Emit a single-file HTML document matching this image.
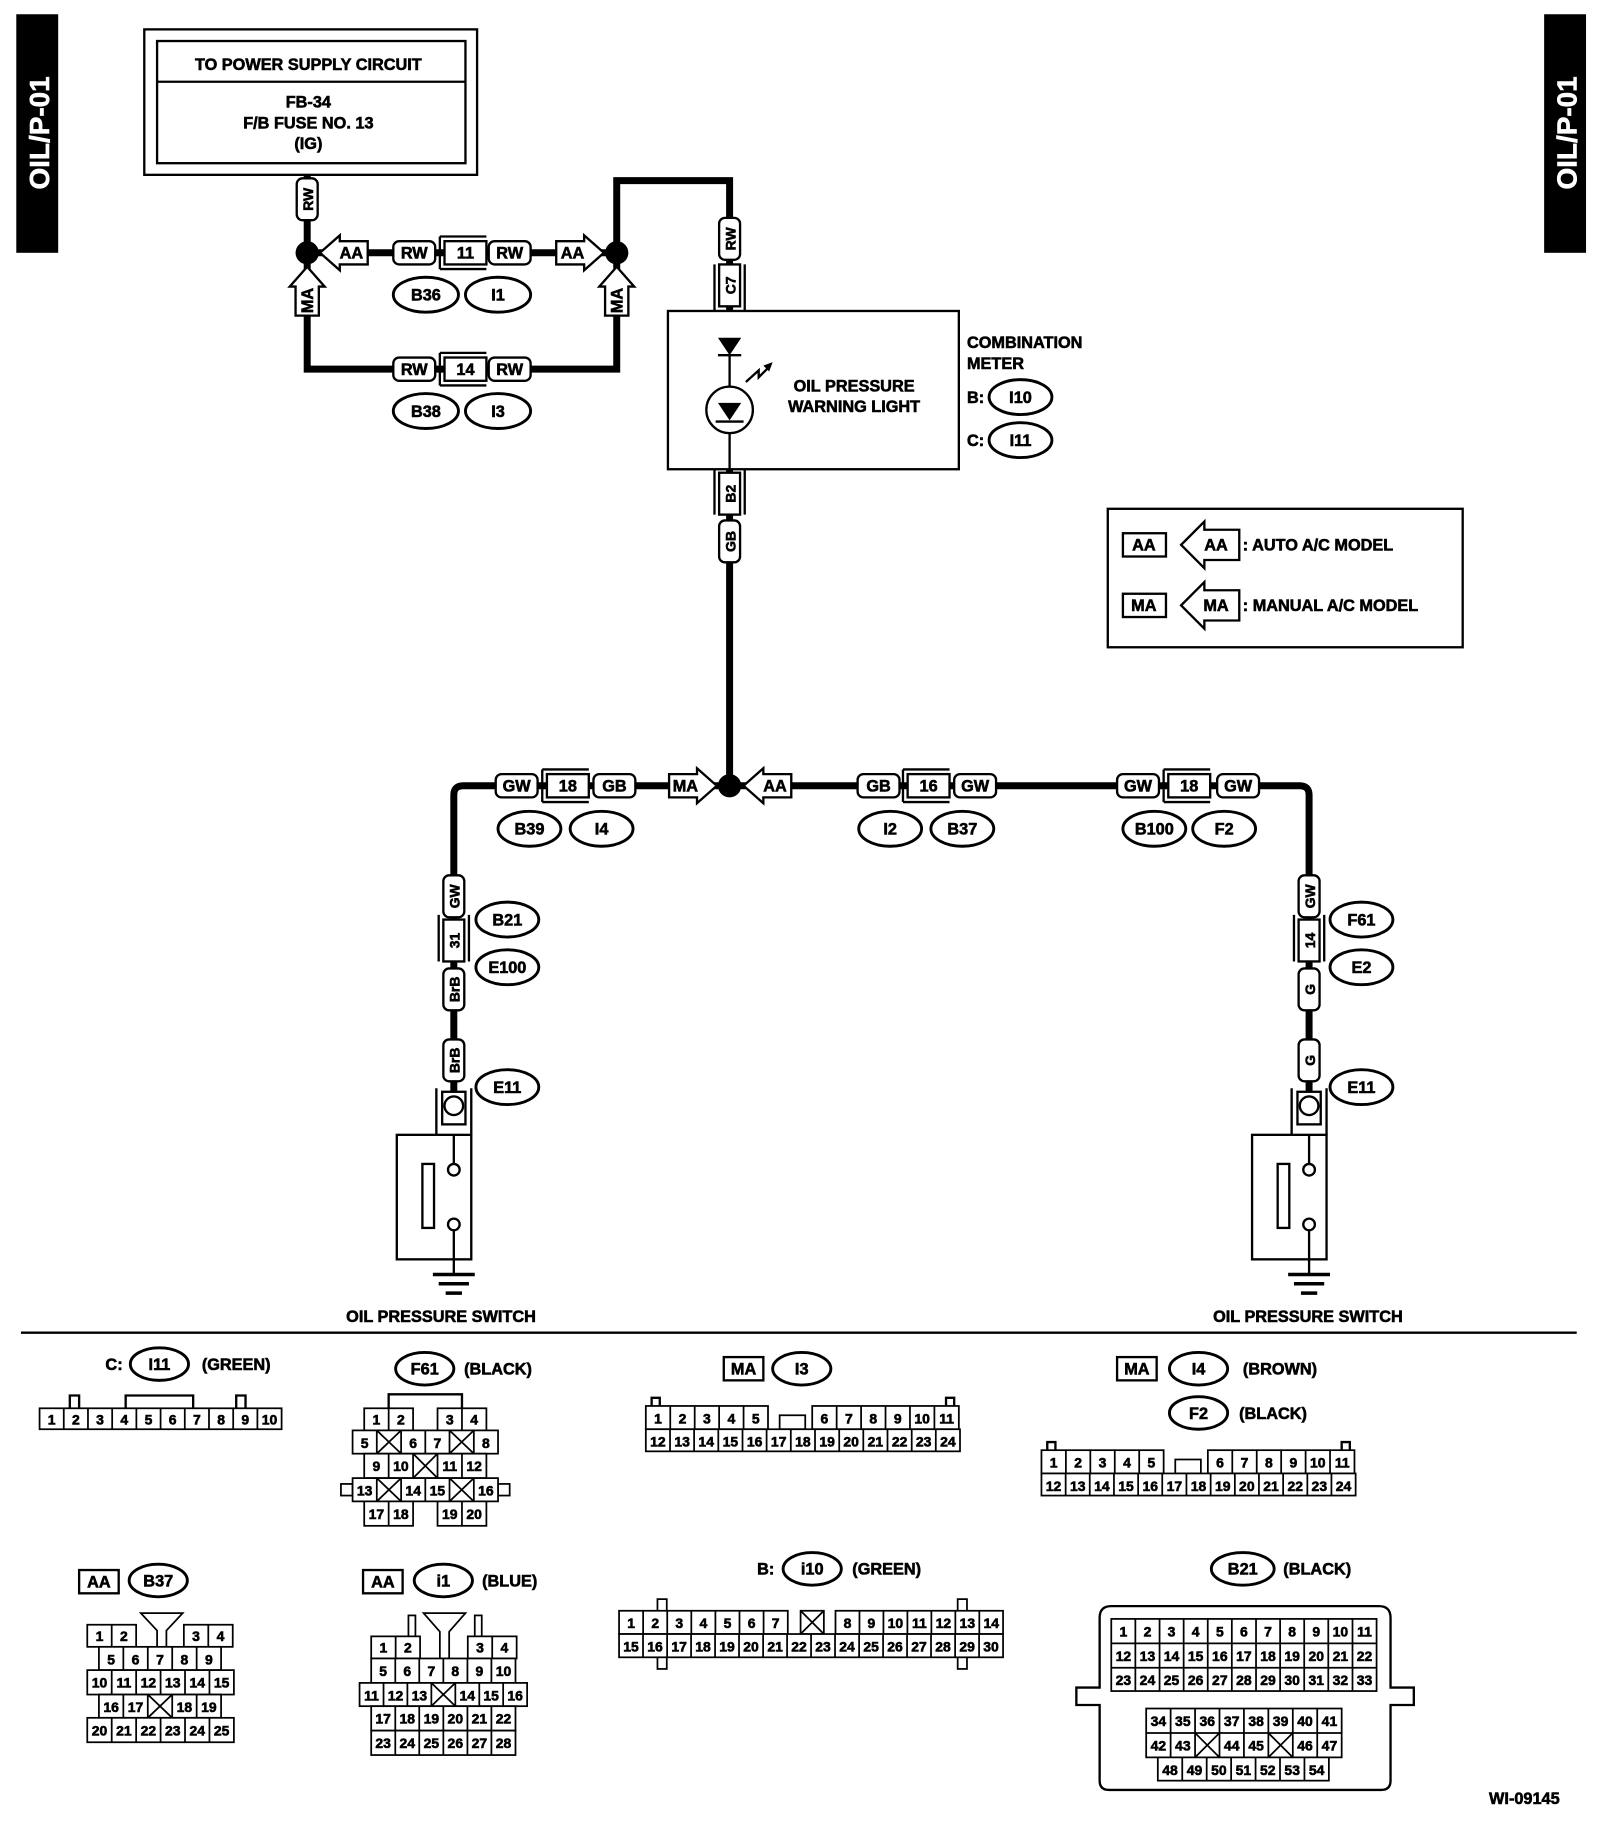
<!DOCTYPE html>
<html><head><meta charset="utf-8"><style>
html,body{margin:0;padding:0;background:#fff;}
svg{display:block;}
text{font-family:"Liberation Sans",sans-serif;font-weight:bold;fill:#000;stroke:#000;stroke-width:0.5;}
.l{font-size:14px;text-anchor:middle;}
.n{font-size:12px;text-anchor:middle;}
.a{font-size:14px;text-anchor:middle;}
.b{fill:#fff;stroke:#000;stroke-width:2;}
.c{fill:#fff;stroke:#000;stroke-width:1.5;}
.w{fill:none;stroke:#000;stroke-width:6;}
.t{fill:none;stroke:#000;stroke-width:2;}
.o{fill:#fff;stroke:#000;stroke-width:2.5;}
</style></head><body>
<svg width="1600" height="1824" viewBox="0 0 1375 1567" xmlns="http://www.w3.org/2000/svg">
<rect x="14" y="12" width="36" height="205" fill="#000"/>
<text transform="translate(42,114) rotate(-90)" style="font-size:24px;fill:#fff;stroke:#fff;text-anchor:middle">OIL/P-01</text>
<rect x="1327" y="12" width="36" height="205" fill="#000"/>
<text transform="translate(1355,114) rotate(-90)" style="font-size:24px;fill:#fff;stroke:#fff;text-anchor:middle">OIL/P-01</text>

<rect x="124" y="25" width="286" height="125" class="b"/>
<rect x="135" y="35" width="265" height="105" class="b"/>
<line x1="135" y1="70" x2="400" y2="70" class="t"/>
<text x="265" y="60" class="l">TO POWER SUPPLY CIRCUIT</text>
<text x="265" y="92" class="l">FB-34</text>
<text x="265" y="110" class="l">F/B FUSE NO. 13</text>
<text x="265" y="128" class="l">(IG)</text>

<path class="w" d="M264,150 V317 H530 V155 H627 V267"/>
<path class="w" d="M264,217 H530"/>
<path class="w" d="M627,403 V675"/>
<path class="w" d="M390,960 V683 Q390,675 398,675 H1117 Q1125,675 1125,683 V960"/>
<circle cx="264" cy="217" r="10"/>
<circle cx="530" cy="217" r="10"/>
<circle cx="627" cy="675" r="10"/>

<g transform="translate(264,171) rotate(-90)"><rect x="-18" y="-9" width="36" height="18" rx="5" class="b"/><text y="5" class="n">RW</text></g>
<g transform="translate(627,205) rotate(-90)"><rect x="-18" y="-9" width="36" height="18" rx="5" class="b"/><text y="5" class="n">RW</text></g>
<g transform="translate(627,245) rotate(-90)"><rect x="-18" y="-9" width="36" height="18" class="b"/><path class="t" d="M-22,-13 H18 M-22,13 H18"/><text y="5" class="n">C7</text></g>
<g transform="translate(627,424) rotate(-90)"><rect x="-18" y="-9" width="36" height="18" class="b"/><path class="t" d="M-18,-13 H22 M-18,13 H22"/><text y="5" class="n">B2</text></g>
<g transform="translate(627,465) rotate(-90)"><rect x="-18" y="-9" width="36" height="18" rx="5" class="b"/><text y="5" class="n">GB</text></g>

<g transform="translate(356,217)"><rect x="-18" y="-10" width="36" height="20" rx="5" class="b"/><text y="5" class="l">RW</text></g>
<g transform="translate(400,217)"><rect x="-18" y="-10" width="36" height="20" class="b"/><path class="t" d="M-22,-14 H18 M-22,14 H18 M-22,-14 V14"/><text y="5" class="l">11</text></g>
<g transform="translate(438,217)"><rect x="-18" y="-10" width="36" height="20" rx="5" class="b"/><text y="5" class="l">RW</text></g>
<g transform="translate(356,317)"><rect x="-18" y="-10" width="36" height="20" rx="5" class="b"/><text y="5" class="l">RW</text></g>
<g transform="translate(400,317)"><rect x="-18" y="-10" width="36" height="20" class="b"/><path class="t" d="M-22,-14 H18 M-22,14 H18 M-22,-14 V14"/><text y="5" class="l">14</text></g>
<g transform="translate(438,317)"><rect x="-18" y="-10" width="36" height="20" rx="5" class="b"/><text y="5" class="l">RW</text></g>

<polygon class="b" points="275,217 292,202 292,207 316,207 316,227 292,227 292,232"/><text x="302" y="222" class="a">AA</text>
<polygon class="b" points="519,217 502,202 502,207 478,207 478,227 502,227 502,232"/><text x="492" y="222" class="a">AA</text>
<polygon class="b" points="264,229 249,246 254,246 254,271 274,271 274,246 279,246"/><text transform="translate(269,258) rotate(-90)" class="a">MA</text>
<polygon class="b" points="530,229 515,246 520,246 520,271 540,271 540,246 545,246"/><text transform="translate(535,258) rotate(-90)" class="a">MA</text>
<polygon class="b" points="616,675 599,660 599,665 575,665 575,685 599,685 599,690"/><text x="589" y="680" class="a">MA</text>
<polygon class="b" points="639,675 656,660 656,665 680,665 680,685 656,685 656,690"/><text x="666" y="680" class="a">AA</text>

<g class="o">
<ellipse cx="366" cy="253" rx="28" ry="15"/><ellipse cx="428" cy="253" rx="28" ry="15"/>
<ellipse cx="366" cy="353" rx="28" ry="15"/><ellipse cx="428" cy="353" rx="28" ry="15"/>
<ellipse cx="877" cy="341" rx="27" ry="15"/><ellipse cx="877" cy="378" rx="27" ry="15"/>
<ellipse cx="455" cy="712" rx="27" ry="15"/><ellipse cx="517" cy="712" rx="27" ry="15"/>
<ellipse cx="765" cy="712" rx="27" ry="15"/><ellipse cx="827" cy="712" rx="27" ry="15"/>
<ellipse cx="992" cy="712" rx="27" ry="15"/><ellipse cx="1052" cy="712" rx="27" ry="15"/>
<ellipse cx="436" cy="790" rx="27" ry="15"/><ellipse cx="436" cy="831" rx="27" ry="15"/><ellipse cx="436" cy="934" rx="27" ry="15"/>
<ellipse cx="1170" cy="790" rx="27" ry="15"/><ellipse cx="1170" cy="831" rx="27" ry="15"/><ellipse cx="1170" cy="934" rx="27" ry="15"/>
</g>
<text x="366" y="258" class="l">B36</text><text x="428" y="258" class="l">I1</text>
<text x="366" y="358" class="l">B38</text><text x="428" y="358" class="l">I3</text>
<text x="877" y="346" class="l">I10</text><text x="877" y="383" class="l">I11</text>
<text x="455" y="717" class="l">B39</text><text x="517" y="717" class="l">I4</text>
<text x="765" y="717" class="l">I2</text><text x="827" y="717" class="l">B37</text>
<text x="992" y="717" class="l">B100</text><text x="1052" y="717" class="l">F2</text>
<text x="436" y="795" class="l">B21</text><text x="436" y="836" class="l">E100</text><text x="436" y="939" class="l">E11</text>
<text x="1170" y="795" class="l">F61</text><text x="1170" y="836" class="l">E2</text><text x="1170" y="939" class="l">E11</text>

<rect x="574" y="267" width="250" height="136" class="b"/>
<polygon points="617,290 637,290 627,305"/>
<line x1="617" y1="305" x2="637" y2="305" class="t"/>
<line x1="627" y1="305" x2="627" y2="332" class="t"/>
<circle cx="627" cy="352" r="20" class="b"/>
<polygon points="617,346 637,346 627,361"/>
<line x1="615" y1="362" x2="639" y2="362" class="t"/>
<line x1="627" y1="372" x2="627" y2="403" class="t"/>
<path class="t" d="M641,328 L652,318 L652,324 L662,314"/><polygon points="664,311 656,314 661,319"/>
<text x="734" y="336" class="l">OIL PRESSURE</text>
<text x="734" y="354" class="l">WARNING LIGHT</text>
<text x="831" y="299" style="font-size:14px">COMBINATION</text>
<text x="831" y="317" style="font-size:14px">METER</text>
<text x="831" y="346" style="font-size:14px">B:</text>
<text x="831" y="383" style="font-size:14px">C:</text>

<rect x="952" y="437" width="305" height="119" class="b"/>
<rect x="965" y="458" width="37" height="20" class="b"/><text x="983" y="473" class="l">AA</text>
<polygon class="b" points="1015,468 1035,448 1035,455 1065,455 1065,481 1035,481 1035,488"/><text x="1045" y="473" class="l">AA</text>
<text x="1068" y="473" style="font-size:14px">: AUTO A/C MODEL</text>
<rect x="965" y="510" width="37" height="20" class="b"/><text x="983" y="525" class="l">MA</text>
<polygon class="b" points="1015,520 1035,500 1035,507 1065,507 1065,533 1035,533 1035,540"/><text x="1045" y="525" class="l">MA</text>
<text x="1068" y="525" style="font-size:14px">: MANUAL A/C MODEL</text>

<g transform="translate(444,675)"><rect x="-18" y="-10" width="36" height="20" rx="5" class="b"/><text y="5" class="l">GW</text></g>
<g transform="translate(488,675)"><rect x="-18" y="-10" width="36" height="20" class="b"/><path class="t" d="M-22,-14 H18 M-22,14 H18 M-22,-14 V14"/><text y="5" class="l">18</text></g>
<g transform="translate(528,675)"><rect x="-18" y="-10" width="36" height="20" rx="5" class="b"/><text y="5" class="l">GB</text></g>
<g transform="translate(755,675)"><rect x="-18" y="-10" width="36" height="20" rx="5" class="b"/><text y="5" class="l">GB</text></g>
<g transform="translate(798,675)"><rect x="-18" y="-10" width="36" height="20" class="b"/><path class="t" d="M-22,-14 H18 M-22,14 H18 M-22,-14 V14"/><text y="5" class="l">16</text></g>
<g transform="translate(838,675)"><rect x="-18" y="-10" width="36" height="20" rx="5" class="b"/><text y="5" class="l">GW</text></g>
<g transform="translate(978,675)"><rect x="-18" y="-10" width="36" height="20" rx="5" class="b"/><text y="5" class="l">GW</text></g>
<g transform="translate(1022,675)"><rect x="-18" y="-10" width="36" height="20" class="b"/><path class="t" d="M-22,-14 H18 M-22,14 H18 M-22,-14 V14"/><text y="5" class="l">18</text></g>
<g transform="translate(1064,675)"><rect x="-18" y="-10" width="36" height="20" rx="5" class="b"/><text y="5" class="l">GW</text></g>

<g transform="translate(390,770) rotate(-90)"><rect x="-18" y="-9" width="36" height="18" rx="5" class="b"/><text y="5" class="n">GW</text></g>
<g transform="translate(390,808) rotate(-90)"><rect x="-18" y="-9" width="36" height="18" class="b"/><path class="t" d="M-18,-13 H22 M-18,13 H22"/><text y="5" class="n">31</text></g>
<g transform="translate(390,850) rotate(-90)"><rect x="-18" y="-9" width="36" height="18" rx="5" class="b"/><text y="5" class="n">BrB</text></g>
<g transform="translate(390,911) rotate(-90)"><rect x="-18" y="-9" width="36" height="18" rx="5" class="b"/><text y="5" class="n">BrB</text></g>
<g transform="translate(1125,770) rotate(-90)"><rect x="-18" y="-9" width="36" height="18" rx="5" class="b"/><text y="5" class="n">GW</text></g>
<g transform="translate(1125,808) rotate(-90)"><rect x="-18" y="-9" width="36" height="18" class="b"/><path class="t" d="M-18,-13 H22 M-18,13 H22"/><text y="5" class="n">14</text></g>
<g transform="translate(1125,850) rotate(-90)"><rect x="-18" y="-9" width="36" height="18" rx="5" class="b"/><text y="5" class="n">G</text></g>
<g transform="translate(1125,911) rotate(-90)"><rect x="-18" y="-9" width="36" height="18" rx="5" class="b"/><text y="5" class="n">G</text></g>

<g id="sw">
<path class="t" d="M375,975 V935 M405,975 V935"/>
<rect x="380" y="938" width="20" height="28" class="b"/>
<circle cx="390" cy="950" r="8" class="b"/>
<rect x="341" y="975" width="64" height="107" class="b"/>
<rect x="363" y="1000" width="10" height="55" class="b"/>
<line x1="390" y1="975" x2="390" y2="1000" class="t"/>
<circle cx="390" cy="1005" r="5" class="b"/>
<circle cx="390" cy="1052" r="5" class="b"/>
<line x1="390" y1="1057" x2="390" y2="1095" class="t"/>
<path d="M372,1095 H408 M377,1103 H403 M383,1111 H397" stroke="#000" stroke-width="3"/>
</g>
<use href="#sw" x="735"/>
<text x="379" y="1136" class="l">OIL PRESSURE SWITCH</text>
<text x="1124" y="1136" class="l">OIL PRESSURE SWITCH</text>

<line x1="18" y1="1145" x2="1355" y2="1145" class="t"/>

<text x="98" y="1177" class="l">C:</text>
<ellipse cx="137" cy="1172" rx="25" ry="14" class="o"/><text x="137" y="1177" class="l">I11</text>
<text x="203" y="1177" class="l">(GREEN)</text>
<path class="t" d="M60,1210 V1199 H68 V1210 M108,1210 V1199 H166 V1210 M203,1210 V1199 H211 V1210"/>
<rect x="34" y="1210" width="208" height="18" class="c"/>
<path class="c" d="M54.8,1210V1228M75.6,1210V1228M96.4,1210V1228M117.2,1210V1228M138,1210V1228M158.8,1210V1228M179.6,1210V1228M200.4,1210V1228M221.2,1210V1228"/>
<g class="n"><text x="44.4" y="1224">1</text><text x="65.2" y="1224">2</text><text x="86" y="1224">3</text><text x="106.8" y="1224">4</text><text x="127.6" y="1224">5</text><text x="148.4" y="1224">6</text><text x="169.2" y="1224">7</text><text x="190" y="1224">8</text><text x="210.8" y="1224">9</text><text x="231.6" y="1224">10</text></g>

<ellipse cx="365" cy="1176" rx="25" ry="14" class="o"/><text x="365" y="1181" class="l">F61</text>
<text x="428" y="1181" class="l">(BLACK)</text>
<path class="t" d="M334,1210 V1198 H397 V1210"/>
<rect x="313" y="1210" width="42" height="19" class="c"/><rect x="376" y="1210" width="42" height="19" class="c"/>
<rect x="303" y="1229" width="125" height="20" class="c"/>
<rect x="313" y="1249" width="105" height="21" class="c"/>
<rect x="293" y="1275" width="10" height="10" class="c"/><rect x="428" y="1275" width="10" height="10" class="c"/>
<rect x="303" y="1270" width="125" height="20" class="c"/>
<rect x="313" y="1290" width="42" height="21" class="c"/><rect x="376" y="1290" width="42" height="21" class="c"/>
<path class="c" d="M334,1210V1229M397,1210V1229M334,1290V1311M397,1290V1311
M323.8,1229V1249M344.7,1229V1249M365.5,1229V1249M386.3,1229V1249M407.2,1229V1249
M334,1249V1270M355,1249V1270M376,1249V1270M397,1249V1270
M323.8,1270V1290M344.7,1270V1290M365.5,1270V1290M386.3,1270V1290M407.2,1270V1290
M323.8,1229L344.7,1249M344.7,1229L323.8,1249M386.3,1229L407.2,1249M407.2,1229L386.3,1249
M355,1249L376,1270M376,1249L355,1270
M323.8,1270L344.7,1290M344.7,1270L323.8,1290M386.3,1270L407.2,1290M407.2,1270L386.3,1290"/>
<g class="n"><text x="323.5" y="1224">1</text><text x="344.5" y="1224">2</text><text x="386.5" y="1224">3</text><text x="407.5" y="1224">4</text>
<text x="313.4" y="1244">5</text><text x="355.1" y="1244">6</text><text x="375.9" y="1244">7</text><text x="417.6" y="1244">8</text>
<text x="323.5" y="1264">9</text><text x="344.5" y="1264">10</text><text x="386.5" y="1264">11</text><text x="407.5" y="1264">12</text>
<text x="313.4" y="1285">13</text><text x="355.1" y="1285">14</text><text x="375.9" y="1285">15</text><text x="417.6" y="1285">16</text>
<text x="323.5" y="1305">17</text><text x="344.5" y="1305">18</text><text x="386.5" y="1305">19</text><text x="407.5" y="1305">20</text></g>

<rect x="622" y="1166" width="34" height="20" class="b"/><text x="639" y="1181" class="l">MA</text>
<ellipse cx="689" cy="1176" rx="25" ry="14" class="o"/><text x="689" y="1181" class="l">I3</text>
<g id="g3">
<path class="t" d="M560,1208 V1201 H567 V1208 M813,1208 V1201 H820 V1208"/>
<rect x="670" y="1216" width="22" height="12" class="c"/>
<rect x="555" y="1208" width="105" height="20" class="c"/>
<rect x="698" y="1208" width="126" height="20" class="c"/>
<rect x="555" y="1228" width="270" height="19" class="c"/>
<path class="c" d="M576,1208V1228M597,1208V1228M618,1208V1228M639,1208V1228M719,1208V1228M740,1208V1228M761,1208V1228M782,1208V1228M803,1208V1228
M575.8,1228V1247M596.5,1228V1247M617.3,1228V1247M638.1,1228V1247M658.8,1228V1247M679.6,1228V1247M700.4,1228V1247M721.2,1228V1247M741.9,1228V1247M762.7,1228V1247M783.5,1228V1247M804.2,1228V1247"/>
<g class="n"><text x="565.5" y="1223">1</text><text x="586.5" y="1223">2</text><text x="607.5" y="1223">3</text><text x="628.5" y="1223">4</text><text x="649.5" y="1223">5</text>
<text x="708.5" y="1223">6</text><text x="729.5" y="1223">7</text><text x="750.5" y="1223">8</text><text x="771.5" y="1223">9</text><text x="792.5" y="1223">10</text><text x="813.5" y="1223">11</text>
<text x="565.4" y="1243">12</text><text x="586.2" y="1243">13</text><text x="606.9" y="1243">14</text><text x="627.7" y="1243">15</text><text x="648.5" y="1243">16</text><text x="669.2" y="1243">17</text><text x="690" y="1243">18</text><text x="710.8" y="1243">19</text><text x="731.5" y="1243">20</text><text x="752.3" y="1243">21</text><text x="773.1" y="1243">22</text><text x="793.8" y="1243">23</text><text x="814.6" y="1243">24</text></g>
</g>

<rect x="960" y="1166" width="34" height="20" class="b"/><text x="977" y="1181" class="l">MA</text>
<ellipse cx="1030" cy="1176" rx="25" ry="14" class="o"/><text x="1030" y="1181" class="l">I4</text>
<text x="1100" y="1181" class="l">(BROWN)</text>
<ellipse cx="1030" cy="1214" rx="25" ry="14" class="o"/><text x="1030" y="1219" class="l">F2</text>
<text x="1094" y="1219" class="l">(BLACK)</text>
<use href="#g3" x="340" y="38"/>

<rect x="68" y="1349" width="34" height="20" class="b"/><text x="85" y="1364" class="l">AA</text>
<ellipse cx="136" cy="1358" rx="25" ry="14" class="o"/><text x="136" y="1363" class="l">B37</text>
<polygon class="c" points="121,1386 157,1386 143,1401 143,1415 135,1415 135,1401"/>
<rect x="75" y="1396" width="42" height="19" class="c"/><rect x="158" y="1396" width="42" height="19" class="c"/>
<rect x="85" y="1415" width="105" height="20" class="c"/>
<rect x="75" y="1435" width="126" height="21" class="c"/>
<rect x="85" y="1456" width="105" height="20" class="c"/>
<rect x="75" y="1476" width="126" height="21" class="c"/>
<path class="c" d="M96,1396V1415M179,1396V1415
M106,1415V1435M127,1415V1435M148,1415V1435M169,1415V1435
M96,1435V1456M117,1435V1456M138,1435V1456M159,1435V1456M180,1435V1456
M106,1456V1476M127,1456V1476M148,1456V1476M169,1456V1476
M96,1476V1497M117,1476V1497M138,1476V1497M159,1476V1497M180,1476V1497
M127,1456L148,1476M148,1456L127,1476"/>
<g class="n"><text x="85.5" y="1410">1</text><text x="106.5" y="1410">2</text><text x="168.5" y="1410">3</text><text x="189.5" y="1410">4</text>
<text x="95.5" y="1430">5</text><text x="116.5" y="1430">6</text><text x="137.5" y="1430">7</text><text x="158.5" y="1430">8</text><text x="179.5" y="1430">9</text>
<text x="85.5" y="1450">10</text><text x="106.5" y="1450">11</text><text x="127.5" y="1450">12</text><text x="148.5" y="1450">13</text><text x="169.5" y="1450">14</text><text x="190.5" y="1450">15</text>
<text x="95.5" y="1471">16</text><text x="116.5" y="1471">17</text><text x="158.5" y="1471">18</text><text x="179.5" y="1471">19</text>
<text x="85.5" y="1491">20</text><text x="106.5" y="1491">21</text><text x="127.5" y="1491">22</text><text x="148.5" y="1491">23</text><text x="169.5" y="1491">24</text><text x="190.5" y="1491">25</text></g>

<rect x="312" y="1349" width="34" height="20" class="b"/><text x="329" y="1364" class="l">AA</text>
<ellipse cx="381" cy="1358" rx="25" ry="14" class="o"/><text x="381" y="1363" class="l">i1</text>
<text x="438" y="1363" class="l">(BLUE)</text>
<rect x="351" y="1388" width="6" height="18" class="c"/><rect x="408" y="1388" width="6" height="18" class="c"/>
<polygon class="c" points="364,1386 400,1386 386,1402 386,1425 378,1425 378,1402"/>
<rect x="319" y="1406" width="42" height="19" class="c"/><rect x="402" y="1406" width="42" height="19" class="c"/>
<rect x="319" y="1425" width="124" height="21" class="c"/>
<rect x="309" y="1446" width="144" height="20" class="c"/>
<rect x="319" y="1466" width="124" height="21" class="c"/>
<rect x="319" y="1487" width="124" height="21" class="c"/>
<path class="c" d="M340,1406V1425M423,1406V1425
M339.7,1425V1446M360.3,1425V1446M381,1425V1446M401.7,1425V1446M422.3,1425V1446
M329.6,1446V1466M350.1,1446V1466M370.7,1446V1466M391.3,1446V1466M411.9,1446V1466M432.4,1446V1466
M339.7,1466V1508M360.3,1466V1508M381,1466V1508M401.7,1466V1508M422.3,1466V1508
M370.7,1446L391.3,1466M391.3,1446L370.7,1466"/>
<g class="n"><text x="329.5" y="1420">1</text><text x="350.5" y="1420">2</text><text x="412.5" y="1420">3</text><text x="433.5" y="1420">4</text>
<text x="329.3" y="1440">5</text><text x="350" y="1440">6</text><text x="370.7" y="1440">7</text><text x="391.3" y="1440">8</text><text x="412" y="1440">9</text><text x="432.7" y="1440">10</text>
<text x="319.3" y="1461">11</text><text x="339.9" y="1461">12</text><text x="360.4" y="1461">13</text><text x="401.6" y="1461">14</text><text x="422.1" y="1461">15</text><text x="442.7" y="1461">16</text>
<text x="329.3" y="1481">17</text><text x="350" y="1481">18</text><text x="370.7" y="1481">19</text><text x="391.3" y="1481">20</text><text x="412" y="1481">21</text><text x="432.7" y="1481">22</text>
<text x="329.3" y="1502">23</text><text x="350" y="1502">24</text><text x="370.7" y="1502">25</text><text x="391.3" y="1502">26</text><text x="412" y="1502">27</text><text x="432.7" y="1502">28</text></g>

<text x="658" y="1353" class="l">B:</text>
<ellipse cx="698" cy="1348" rx="25" ry="14" class="o"/><text x="698" y="1353" class="l">i10</text>
<text x="762" y="1353" class="l">(GREEN)</text>
<rect x="565" y="1374" width="8" height="60" class="c"/><rect x="823" y="1374" width="8" height="60" class="c"/>
<rect x="532" y="1384" width="145" height="20" class="c"/>
<rect x="688" y="1384" width="20" height="20" class="c"/>
<rect x="718" y="1384" width="144" height="20" class="c"/>
<rect x="532" y="1404" width="330" height="20" class="c"/>
<path class="c" d="M552.7,1384V1404M573.4,1384V1404M594.1,1384V1404M614.8,1384V1404M635.5,1384V1404M656.2,1384V1404
M738.6,1384V1404M759.2,1384V1404M779.8,1384V1404M800.4,1384V1404M821,1384V1404M841.6,1384V1404
M688,1384L708,1404M708,1384L688,1404
M552.6,1404V1424M573.3,1404V1424M593.9,1404V1424M614.5,1404V1424M635.1,1404V1424M655.8,1404V1424M676.4,1404V1424M697,1404V1424M717.6,1404V1424M738.3,1404V1424M758.9,1404V1424M779.5,1404V1424M800.1,1404V1424M820.8,1404V1424M841.4,1404V1424"/>
<g class="n"><text x="542.4" y="1399">1</text><text x="563.1" y="1399">2</text><text x="583.8" y="1399">3</text><text x="604.5" y="1399">4</text><text x="625.2" y="1399">5</text><text x="645.9" y="1399">6</text><text x="666.6" y="1399">7</text>
<text x="728.3" y="1399">8</text><text x="748.9" y="1399">9</text><text x="769.5" y="1399">10</text><text x="790.1" y="1399">11</text><text x="810.7" y="1399">12</text><text x="831.3" y="1399">13</text><text x="851.9" y="1399">14</text>
<text x="542.3" y="1419">15</text><text x="562.9" y="1419">16</text><text x="583.6" y="1419">17</text><text x="604.2" y="1419">18</text><text x="624.8" y="1419">19</text><text x="645.4" y="1419">20</text><text x="666.1" y="1419">21</text><text x="686.7" y="1419">22</text><text x="707.3" y="1419">23</text><text x="727.9" y="1419">24</text><text x="748.6" y="1419">25</text><text x="769.2" y="1419">26</text><text x="789.8" y="1419">27</text><text x="810.4" y="1419">28</text><text x="831.1" y="1419">29</text><text x="851.7" y="1419">30</text></g>

<ellipse cx="1068" cy="1348" rx="27" ry="14" class="o"/><text x="1068" y="1353" class="l">B21</text>
<text x="1132" y="1353" class="l">(BLACK)</text>
<path class="b" d="M945,1390 Q945,1380 955,1380 L1185,1380 Q1195,1380 1195,1390 L1195,1450 L1215,1450 L1215,1465 L1195,1465 L1195,1530 Q1195,1538 1187,1538 L953,1538 Q945,1538 945,1530 L945,1465 L925,1465 L925,1450 L945,1450 Z"/>
<rect x="955" y="1391" width="228" height="62" class="c"/>
<path class="c" d="M955,1412H1183M955,1433H1183
M975.7,1391V1453M996.5,1391V1453M1017.2,1391V1453M1037.9,1391V1453M1058.6,1391V1453M1079.4,1391V1453M1100.1,1391V1453M1120.8,1391V1453M1141.5,1391V1453M1162.3,1391V1453"/>
<rect x="985" y="1468" width="168" height="42" class="c"/>
<rect x="995" y="1510" width="147" height="20" class="c"/>
<path class="c" d="M985,1489H1153
M1006,1468V1510M1027,1468V1510M1048,1468V1510M1069,1468V1510M1090,1468V1510M1111,1468V1510M1132,1468V1510
M1016,1510V1530M1037,1510V1530M1058,1510V1530M1079,1510V1530M1100,1510V1530M1121,1510V1530
M1027,1489L1048,1510M1048,1489L1027,1510M1090,1489L1111,1510M1111,1489L1090,1510"/>
<g class="n"><text x="965.4" y="1406">1</text><text x="986.1" y="1406">2</text><text x="1006.8" y="1406">3</text><text x="1027.5" y="1406">4</text><text x="1048.3" y="1406">5</text><text x="1069" y="1406">6</text><text x="1089.7" y="1406">7</text><text x="1110.4" y="1406">8</text><text x="1131.2" y="1406">9</text><text x="1151.9" y="1406">10</text><text x="1172.6" y="1406">11</text>
<text x="965.4" y="1427">12</text><text x="986.1" y="1427">13</text><text x="1006.8" y="1427">14</text><text x="1027.5" y="1427">15</text><text x="1048.3" y="1427">16</text><text x="1069" y="1427">17</text><text x="1089.7" y="1427">18</text><text x="1110.4" y="1427">19</text><text x="1131.2" y="1427">20</text><text x="1151.9" y="1427">21</text><text x="1172.6" y="1427">22</text>
<text x="965.4" y="1448">23</text><text x="986.1" y="1448">24</text><text x="1006.8" y="1448">25</text><text x="1027.5" y="1448">26</text><text x="1048.3" y="1448">27</text><text x="1069" y="1448">28</text><text x="1089.7" y="1448">29</text><text x="1110.4" y="1448">30</text><text x="1131.2" y="1448">31</text><text x="1151.9" y="1448">32</text><text x="1172.6" y="1448">33</text>
<text x="995.5" y="1483">34</text><text x="1016.5" y="1483">35</text><text x="1037.5" y="1483">36</text><text x="1058.5" y="1483">37</text><text x="1079.5" y="1483">38</text><text x="1100.5" y="1483">39</text><text x="1121.5" y="1483">40</text><text x="1142.5" y="1483">41</text>
<text x="995.5" y="1504">42</text><text x="1016.5" y="1504">43</text><text x="1058.5" y="1504">44</text><text x="1079.5" y="1504">45</text><text x="1121.5" y="1504">46</text><text x="1142.5" y="1504">47</text>
<text x="1005.5" y="1525">48</text><text x="1026.5" y="1525">49</text><text x="1047.5" y="1525">50</text><text x="1068.5" y="1525">51</text><text x="1089.5" y="1525">52</text><text x="1110.5" y="1525">53</text><text x="1131.5" y="1525">54</text></g>

<text x="1310" y="1550" class="l">WI-09145</text>
</svg>
</body></html>
